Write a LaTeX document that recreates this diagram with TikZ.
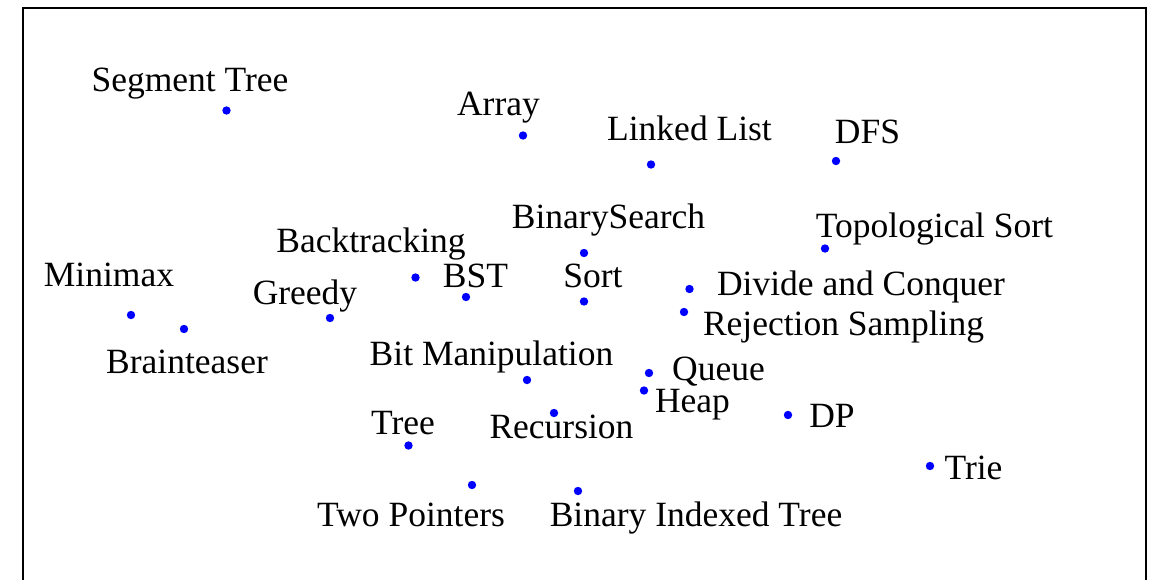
\documentclass[tikz,border=0pt]{standalone}
\usepackage{fontspec}
\setmainfont{Liberation Serif}
\begin{document}
\begin{tikzpicture}[x=1pt,y=-1pt,
  dot/.style={circle,fill=ptblue,draw=none,inner sep=0pt,minimum size=8.4pt},
  lbl/.style={anchor=base,inner sep=0pt,font=\fontsize{35.5}{41}\selectfont}]
\definecolor{ptblue}{RGB}{0,0,255}
\useasboundingbox (0,0) rectangle (1153,579);
% plot frame (its lower edge lies below the visible area)
\draw[line width=2pt] (23,7.5) rectangle (1146,600);

% points
\node[dot] (p1)  at (226.5,110.5) {};
\node[dot] (p2)  at (523,135.5) {};
\node[dot] (p3)  at (651,164.5) {};
\node[dot] (p4)  at (836,161) {};
\node[dot] (p5)  at (825,248.5) {};
\node[dot] (p6)  at (584,253) {};
\node[dot] (p7)  at (415.5,277.5) {};
\node[dot] (p8)  at (466,297) {};
\node[dot] (p9)  at (584,301.5) {};
\node[dot] (p10) at (131,315) {};
\node[dot] (p11) at (330,318) {};
\node[dot] (p12) at (184,329) {};
\node[dot] (p13) at (689.5,289) {};
\node[dot] (p14) at (684,312) {};
\node[dot] (p15) at (527,380) {};
\node[dot] (p16) at (649,373) {};
\node[dot] (p17) at (644,390.5) {};
\node[dot] (p18) at (788,415) {};
\node[dot] (p19) at (408.5,445.5) {};
\node[dot] (p20) at (554,413) {};
\node[dot] (p21) at (930,466) {};
\node[dot] (p22) at (472,485) {};
\node[dot] (p23) at (578,491) {};

% labels
\node[lbl] (t1)  at (190,91) {Segment Tree};
\node[lbl] (t2)  at (498.5,115) {Array};
\node[lbl] (t3)  at (689.5,140) {Linked List};
\node[lbl] (t4)  at (867.5,143) {DFS};
\node[lbl] (t5)  at (934.5,237) {Topological Sort};
\node[lbl] (t6)  at (608.5,228.5) {BinarySearch};
\node[lbl] (t7)  at (371,252) {Backtracking};
\node[lbl] (t8)  at (475.5,287) {BST};
\node[lbl] (t9)  at (593,287) {Sort};
\node[lbl] (t10) at (109,286) {Minimax};
\node[lbl] (t11) at (305,304) {Greedy};
\node[lbl] (t12) at (187,373) {Brainteaser};
\node[lbl] (t13) at (861,295) {Divide and Conquer};
\node[lbl] (t14) at (843.5,335) {Rejection Sampling};
\node[lbl] (t15) at (491.5,365) {Bit Manipulation};
\node[lbl] (t16) at (718.5,380) {Queue};
\node[lbl] (t17) at (692.5,412) {Heap};
\node[lbl] (t18) at (832,427) {DP};
\node[lbl] (t19) at (403,434) {Tree};
\node[lbl] (t20) at (561.5,438) {Recursion};
\node[lbl] (t21) at (973.5,479) {Trie};
\node[lbl] (t22) at (411,526) {Two Pointers};
\node[lbl] (t23) at (696,526) {Binary Indexed Tree};
\end{tikzpicture}
\end{document}
